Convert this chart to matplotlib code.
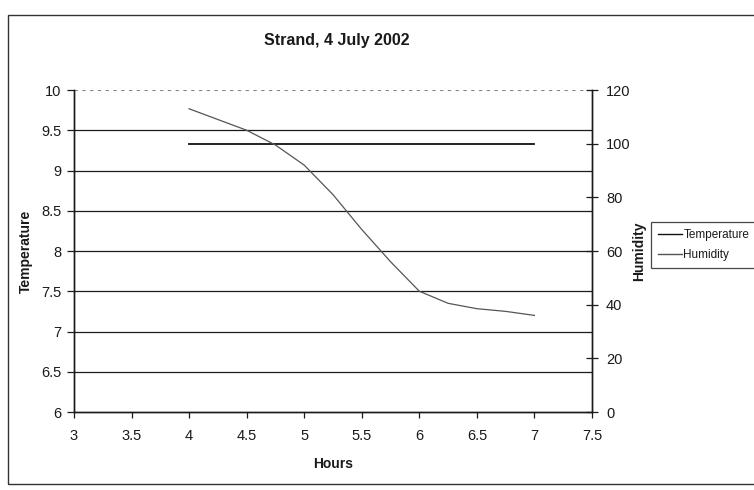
import matplotlib
matplotlib.use("Agg")
import matplotlib.pyplot as plt
from matplotlib.patches import Rectangle
from matplotlib.lines import Line2D

plt.rcParams['font.family'] = ['Liberation Sans', 'DejaVu Sans']

# Measurements, Strand, 4 July 2002
hours_temp = [4.0, 4.5, 5.0, 5.5, 6.0, 6.5, 7.0]
temperature = [9.33, 9.33, 9.33, 9.33, 9.33, 9.33, 9.33]

hours_hum = [4.0, 4.25, 4.5, 4.75, 5.0, 5.25, 5.5, 5.75, 6.0, 6.25, 6.5, 6.75, 7.0]
humidity = [113, 109, 105, 99.5, 92, 81, 68, 56, 45, 40.5, 38.5, 37.5, 36]

x_ticks = [3, 3.5, 4, 4.5, 5, 5.5, 6, 6.5, 7, 7.5]
temp_ticks = [6, 6.5, 7, 7.5, 8, 8.5, 9, 9.5, 10]
hum_ticks = [0, 20, 40, 60, 80, 100, 120]

ink = '#1a1a1a'

fig = plt.figure(figsize=(7.54, 4.90), dpi=100)
fig.patch.set_facecolor('white')

# chart-area border
fig.patches.append(Rectangle((8 / 754, 1 - 484 / 490), 760 / 754, (484 - 15) / 490,
                             transform=fig.transFigure, fill=False,
                             edgecolor='#333333', linewidth=1.0))

ax = fig.add_axes([74 / 754, 1 - 412 / 490, (592 - 74) / 754, (412 - 90) / 490])
ax2 = ax.twinx()

ax.set_xlim(3, 7.5)
ax.set_ylim(6, 10)
ax2.set_ylim(0, 120)

# horizontal gridlines
for t in temp_ticks[1:-1]:
    ax.axhline(t, color=ink, linewidth=0.9, zorder=1)
ax.axhline(10, color='#888888', linewidth=0.8, linestyle=(0, (3, 4)), zorder=1)

ax.plot(hours_temp, temperature, color='#111111', linewidth=1.3, zorder=3)
ax2.plot(hours_hum, humidity, color='#555555', linewidth=0.9, zorder=3)

ax.set_xticks(x_ticks)
ax.set_xticklabels(['3', '3.5', '4', '4.5', '5', '5.5', '6', '6.5', '7', '7.5'])
ax.set_yticks(temp_ticks)
ax.set_yticklabels(['6', '6.5', '7', '7.5', '8', '8.5', '9', '9.5', '10'])
ax2.set_yticks(hum_ticks)

for a in (ax, ax2):
    a.spines['top'].set_visible(False)
    for s in a.spines.values():
        s.set_color(ink)
        s.set_linewidth(1.0)

ax.tick_params(axis='x', direction='out', length=4, width=0.9, colors=ink,
               labelsize=10.5, pad=8)
ax.tick_params(axis='y', direction='out', length=5, width=0.9, colors=ink,
               labelsize=10.5, pad=4)
ax2.tick_params(axis='y', direction='inout', length=8, width=0.9, colors=ink,
                labelsize=10.5, pad=6)

ax.set_xlabel('Hours', fontsize=10, fontweight='bold', color=ink, labelpad=10)
ax.set_ylabel('Temperature', fontsize=10, fontweight='bold', color=ink, labelpad=6)
ax2.set_ylabel('Humidity', fontsize=10, fontweight='bold', color=ink, labelpad=1)

fig.text(337 / 754, 1 - 40 / 490, 'Strand, 4 July 2002', ha='center', va='center',
         fontsize=11.5, fontweight='bold', color=ink)

handles = [Line2D([], [], color='#111111', linewidth=1.0),
           Line2D([], [], color='#555555', linewidth=1.0)]
leg = fig.legend(handles, ['Temperature', 'Humidity'], loc='upper left',
                 bbox_to_anchor=(651 / 754, 1 - 222 / 490), fontsize=8.5,
                 frameon=True, fancybox=False, handlelength=2.0,
                 handletextpad=0.15, borderpad=0.6, labelspacing=0.7,
                 borderaxespad=0)
leg.get_frame().set_edgecolor(ink)
leg.get_frame().set_linewidth(0.9)
for txt in leg.get_texts():
    txt.set_color(ink)

fig.savefig('out.png', dpi=100)
